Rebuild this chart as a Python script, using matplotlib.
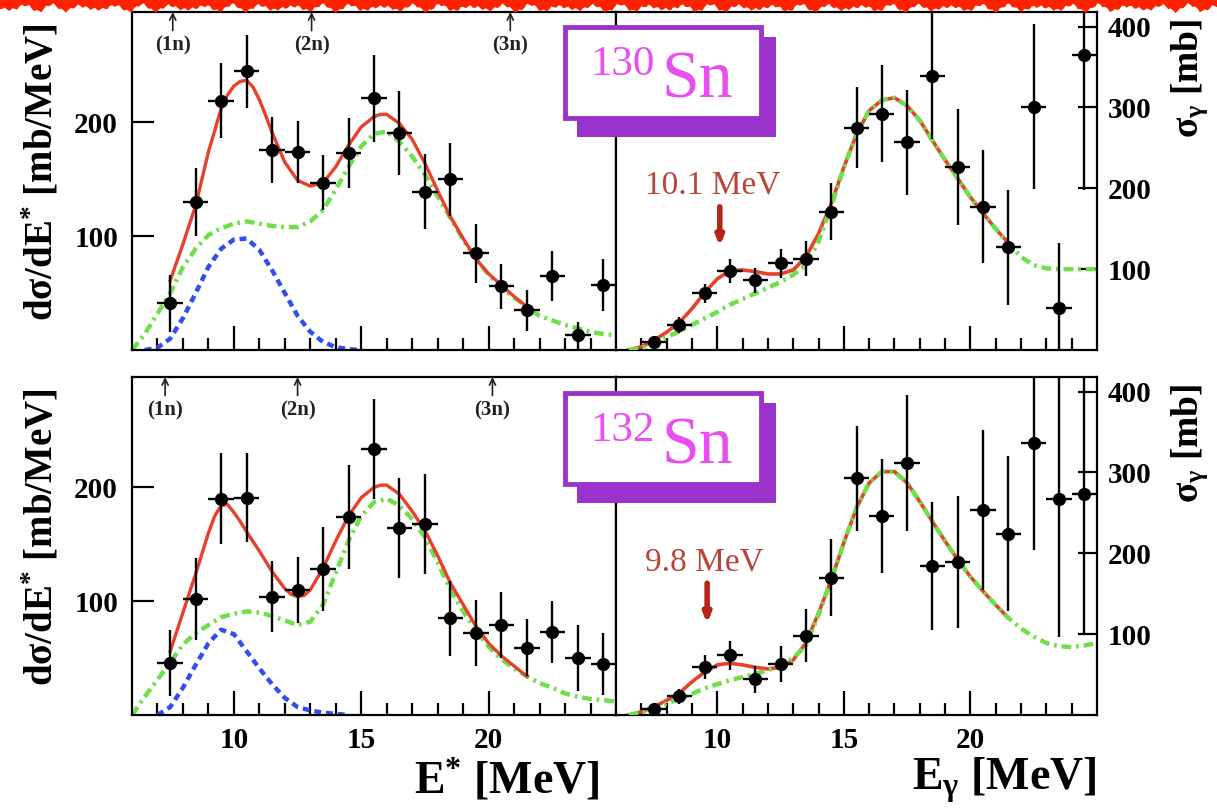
import matplotlib
matplotlib.use('Agg')
import matplotlib.pyplot as plt
from matplotlib.patches import Rectangle, Polygon
from matplotlib.ticker import FixedLocator
import numpy as np

plt.rcParams['font.family'] = ['Liberation Serif', 'DejaVu Serif']
plt.rcParams['mathtext.fontset'] = 'custom'
plt.rcParams['mathtext.rm'] = 'Liberation Serif'
plt.rcParams['mathtext.it'] = 'Liberation Serif:italic'
plt.rcParams['mathtext.bf'] = 'Liberation Serif:bold'
plt.rcParams['mathtext.default'] = 'regular'
plt.rcParams['lines.scale_dashes'] = False

# ---- measured points (bin centres, +-0.5 MeV) ----
e_pts = [7.5, 8.5, 9.5, 10.5, 11.5, 12.5, 13.5, 14.5, 15.5, 16.5, 17.5, 18.5, 19.5, 20.5, 21.5, 22.5, 23.5, 24.5]

# 130Sn  dsigma/dE*  [mb/MeV]
sn130_dsde = [41, 130, 219, 245, 176, 174, 147, 173, 221, 191, 139, 150, 85, 56, 35, 65, 13, 57]
sn130_dsde_err = [25, 30, 33, 32, 29, 27, 24, 31, 38, 37, 33, 32, 26, 20, 18, 22, 12, 23]
# 130Sn  sigma_gamma  [mb]
sn130_sg = [10, 31, 70, 98, 86, 107, 113, 171, 275, 292, 257, 339, 226, 177, 127, 301, 52, 365]
sn130_sg_err = [5, 10, 12, 15, 15, 18, 22, 35, 50, 60, 65, 78, 72, 70, 71, 102, 80, 167]

# 132Sn  dsigma/dE*  [mb/MeV]
sn132_dsde = [46, 102, 190, 191, 104, 110, 128, 174, 234, 164, 168, 85, 72, 79, 59, 73, 50, 45]
sn132_dsde_err = [29, 36, 40, 39, 31, 29, 37, 46, 44, 44, 44, 33, 29, 29, 25, 27, 29, 27]
# 132Sn  sigma_gamma  [mb]
sn132_sg = [7, 23, 59, 74, 44, 63, 98, 170, 293, 246, 312, 184, 189, 253, 224, 336, 267, 273]
sn132_sg_err = [5, 9, 15, 18, 17, 22, 33, 48, 65, 71, 84, 79, 82, 99, 96, 132, 171, 172]

# ---- fit curves ----
e_tot130 = [7.5, 8.0, 8.5, 9.0, 9.5, 9.75, 10.0, 10.25, 10.5, 10.75, 11.0, 11.25, 11.5, 12.0, 12.5,
            13.0, 13.5, 14.0, 14.5, 15.0, 15.5, 15.75, 16.0, 16.5, 17.0, 17.5, 18.0, 18.5, 19.0,
            19.5, 20.0, 20.5, 21.0, 21.5]
sn130_total = [61, 93, 127, 174, 212, 224, 232, 236, 237, 231, 220, 206, 191, 165, 149,
               144, 147, 161, 180, 196, 205, 207, 207, 199, 185, 164, 140, 117, 98,
               80, 67, 57, 47, 38]
e_tot132 = [7.5, 8.0, 8.5, 9.0, 9.25, 9.5, 9.75, 10.0, 10.25, 10.5, 11.0, 11.5, 12.0, 12.25, 12.5,
            12.75, 13.0, 13.5, 14.0, 14.5, 15.0, 15.5, 15.75, 16.0, 16.5, 17.0, 17.5, 18.0, 18.5,
            19.0, 19.5, 20.0, 20.5, 21.0, 21.5]
sn132_total = [56, 90, 124, 160, 175, 184, 185, 178, 170, 161, 144, 126, 111, 106, 104,
               105, 110, 129, 153, 175, 191, 200, 202, 202, 194, 179, 162, 140, 116,
               97, 78, 63, 52, 43, 34]

e_gdr = [6.0, 6.5, 7.0, 7.5, 8.0, 8.5, 9.0, 9.5, 10.0, 10.5, 11.0, 11.5, 12.0, 12.5, 13.0, 13.5,
         14.0, 14.5, 15.0, 15.5, 16.0, 16.5, 17.0, 17.5, 18.0, 18.5, 19.0, 19.5, 20.0, 20.5,
         21.0, 21.5, 22.0, 22.5, 23.0, 23.5, 24.0, 24.5, 25.0]
sn130_gdr = [0, 14, 32, 50, 73, 89, 101, 107, 111, 113, 111, 109, 108, 108, 113, 123,
             141, 161, 179, 190, 192, 183, 170, 154, 135, 116, 97, 80, 66, 55,
             46, 38, 30, 26, 22, 19, 16, 14, 13]
sn132_gdr = [0, 16, 31, 46, 62, 72, 79, 86, 89, 91, 90, 87, 83, 79, 82, 97,
             125, 153, 175, 187, 190, 184, 172, 156, 134, 110, 91, 75, 60, 49,
             41, 34, 28, 24, 19, 16, 14, 13, 12]

e_pdr130 = [6.5, 7.0, 7.5, 8.0, 8.5, 9.0, 9.5, 10.0, 10.5, 11.0, 11.5, 12.0, 12.5, 13.0, 13.5, 14.0, 14.5, 15.0]
sn130_pdr = [0, 2, 10, 28, 50, 73, 89, 97, 98, 88, 70, 50, 30, 16, 7, 2.5, 0.7, 0]
e_pdr132 = [7.0, 7.5, 8.0, 8.5, 9.0, 9.5, 10.0, 10.5, 11.0, 11.5, 12.0, 12.5, 13.0, 13.5, 14.0, 14.5]
sn132_pdr = [0, 7, 24, 44, 63, 75, 71, 56, 41, 27, 15, 7, 4, 2, 1, 0]

e_sg_fit = [6.5, 7.0, 7.5, 8.0, 8.5, 9.0, 9.5, 10.0, 10.5, 11.0, 11.5, 12.0, 12.5, 13.0, 13.5, 14.0,
            14.5, 15.0, 15.5, 16.0, 16.5, 17.0, 17.5, 18.0, 18.5, 19.0, 19.5, 20.0, 20.5, 21.0, 21.5]
e_sg_gdr = e_sg_fit + [22.0, 22.5, 23.0, 23.5, 24.0, 24.5, 25.0]
sn130_sg_total = [0, 4, 12, 22, 34, 51, 71, 88, 98, 99, 97, 94, 94, 99, 115, 144,
                  181, 226, 267, 296, 309, 312, 302, 284, 259, 235, 212, 189, 169, 150, 132]
sn130_sg_gdr = [0, 2, 8, 16, 23, 31, 39, 47, 56, 63, 70, 77, 84, 93, 105, 134,
                177, 226, 267, 296, 309, 312, 302, 284, 259, 235, 212, 189, 169, 150, 132,
                115, 105, 101, 100, 100, 100, 100]
sn132_sg_total = [0, 4, 10, 18, 27, 41, 53, 62, 64, 62, 59, 57, 59, 68, 89, 126,
                  167, 213, 256, 287, 301, 301, 287, 264, 239, 215, 192, 171, 153, 136, 120]
sn132_sg_gdr = [0, 3, 8, 14, 20, 26, 33, 38, 43, 47, 51, 55, 62, 70, 86, 124,
                167, 213, 256, 287, 301, 301, 287, 264, 239, 215, 192, 171, 153, 136, 120,
                107, 97, 89, 85, 84, 86, 89]

thr130 = [7.6, 13.05, 20.85]
thr132 = [7.3, 12.5, 20.15]
thr_labels = ['(1n)', '(2n)', '(3n)']

RED = '#e8402a'
GREEN = '#6ee04a'
BLUE = '#2f4ff0'
PURPLE = '#9933cc'
MAGENTA = '#e94ff0'

W, H = 1217, 811
fig = plt.figure(figsize=(W / 100, H / 100), dpi=100)


def fx(px):
    return px / W


def fy(py):
    return 1 - py / H


def make_axes(x0, x1, y0, y1):
    return fig.add_axes([fx(x0), fy(y1), (x1 - x0) / W, (y1 - y0) / H])


def style(ax, side, xlabels):
    ax.set_xlim(6, 25)
    ax.xaxis.set_major_locator(FixedLocator([10, 15, 20]))
    ax.xaxis.set_minor_locator(FixedLocator([7, 8, 9, 11, 12, 13, 14, 16, 17, 18, 19, 21, 22, 23, 24]))
    ax.tick_params(axis='x', which='major', direction='in', length=17, width=1.6,
                   top=False, labelsize=21, pad=9, labelbottom=xlabels)
    ax.tick_params(axis='x', which='minor', direction='in', length=9, width=1.6, top=False)
    for s in ax.spines.values():
        s.set_linewidth(1.6)
    if side == 'left':
        ax.set_ylim(0, 297)
        ax.set_yticks([100, 200])
        ax.tick_params(axis='y', direction='in', length=16, width=1.6, labelsize=21, pad=10, right=False)
    else:
        ax.set_ylim(0, 418)
        ax.set_yticks([100, 200, 300, 400])
        ax.yaxis.tick_right()
        ax.tick_params(axis='y', direction='in', length=14, width=1.6, labelsize=21, pad=8, left=False)
    for lab in ax.get_xticklabels() + ax.get_yticklabels():
        lab.set_fontweight('bold')


def draw_left(ax, y, yerr, e_tot, total, gdr, e_pdr, pdr, thr):
    ax.plot(e_gdr, gdr, color=GREEN, lw=3.2, dashes=(7, 3.5, 2, 3.5), zorder=2)
    ax.plot(e_pdr, pdr, color=BLUE, lw=3.2, dashes=(5, 3.5), zorder=2)
    ax.plot(e_tot, total, color=RED, lw=2.4, zorder=3)
    ax.errorbar(e_pts, y, yerr=yerr, xerr=0.5, fmt='o', color='black', ms=8.5,
                elinewidth=1.7, capsize=0, zorder=5)
    for e, lab in zip(thr, thr_labels):
        ax.annotate('', xy=(e, 1.0), xycoords=('data', 'axes fraction'),
                    xytext=(e, 0.945), textcoords=('data', 'axes fraction'),
                    arrowprops=dict(arrowstyle='->,head_length=0.45,head_width=0.22', lw=1.2,
                                    color='#222222', shrinkA=0, shrinkB=0))
        ax.text(e, 0.9, lab, transform=ax.get_xaxis_transform(), ha='center', va='center',
                fontsize=15, fontweight='bold', color='#222222')


def draw_right(ax, y, yerr, total, gdr, e_arrow, arrow_top, arrow_bot, label, lab_e, lab_y):
    ax.plot(e_sg_fit, total, color=RED, lw=2.6, zorder=2)
    ax.plot(e_sg_gdr, gdr, color=GREEN, lw=3.2, dashes=(7, 3.5, 2, 3.5), zorder=3)
    ax.errorbar(e_pts, y, yerr=yerr, xerr=0.5, fmt='o', color='black', ms=8.5,
                elinewidth=1.7, capsize=0, zorder=5)
    ax.annotate('', xy=(e_arrow, arrow_bot), xytext=(e_arrow, arrow_top),
                arrowprops=dict(arrowstyle='-|>,head_length=0.5,head_width=0.2', lw=4,
                                color='#b42418', shrinkA=0, shrinkB=0))
    ax.text(lab_e, lab_y, label, ha='center', va='center', fontsize=24, color='#b8453a')


ax_tl = make_axes(132, 616, 12, 350)
ax_tr = make_axes(616, 1097, 12, 350)
ax_bl = make_axes(132, 616, 377, 715)
ax_br = make_axes(616, 1097, 377, 715)

draw_left(ax_tl, sn130_dsde, sn130_dsde_err, e_tot130, sn130_total, sn130_gdr, e_pdr130, sn130_pdr, thr130)
draw_left(ax_bl, sn132_dsde, sn132_dsde_err, e_tot132, sn132_total, sn132_gdr, e_pdr132, sn132_pdr, thr132)
draw_right(ax_tr, sn130_sg, sn130_sg_err, sn130_sg_total, sn130_sg_gdr, 10.1, 177, 128, '10.1 MeV', 9.8, 204)
draw_right(ax_br, sn132_sg, sn132_sg_err, sn132_sg_total, sn132_sg_gdr, 9.6, 163, 113, '9.8 MeV', 9.5, 189)

style(ax_tl, 'left', False)
style(ax_tr, 'right', False)
style(ax_bl, 'left', True)
style(ax_br, 'right', True)

# axis titles
for dy in (0, 365):
    fig.text(fx(41), fy(172 + dy), 'dσ/dE$^{*}$ [mb/MeV]', rotation=90, ha='center', va='center',
             fontsize=28, fontweight='bold')
    fig.text(fx(1190), fy(78 + dy), 'σ$_{γ}$ [mb]', rotation=90, ha='center', va='center',
             fontsize=27, fontweight='bold')
fig.text(fx(599), fy(780), 'E$^{*}$ [MeV]', ha='right', va='center', fontsize=33, fontweight='bold')
fig.text(fx(1096), fy(780), 'E$_{γ}$ [MeV]', ha='right', va='center', fontsize=33, fontweight='bold')

# nucleus labels with shadowed boxes
for dy, mass in ((0, '130'), (366, '132')):
    fig.add_artist(Rectangle((fx(577), fy(137 + dy)), 199 / W, 100 / H, transform=fig.transFigure,
                             facecolor=PURPLE, edgecolor='none', zorder=10))
    fig.add_artist(Rectangle((fx(565), fy(118 + dy)), 196 / W, 91 / H, transform=fig.transFigure,
                             facecolor='white', edgecolor=PURPLE, lw=3.5, zorder=11))
    fig.text(fx(590), fy(75 + dy), mass, fontsize=31, color=MAGENTA, ha='left', va='baseline', zorder=12)
    fig.text(fx(662), fy(97 + dy), 'Sn', fontsize=49, color=MAGENTA, ha='left', va='baseline', zorder=12)

# torn red strip along the top edge
xs = np.linspace(0, W, 500)
edge = 8 + 2.5 * np.sin(xs * 0.21) + 1.5 * np.sin(xs * 0.77 + 1.0) + 1.2 * np.sin(xs * 2.3)
verts = [(fx(0), fy(0))] + [(fx(x), fy(e)) for x, e in zip(xs, edge)] + [(fx(W), fy(0))]
fig.add_artist(Polygon(verts, closed=True, transform=fig.transFigure, facecolor='#ff2200',
                       edgecolor='none', zorder=20))

fig.savefig('out.png', dpi=100)
